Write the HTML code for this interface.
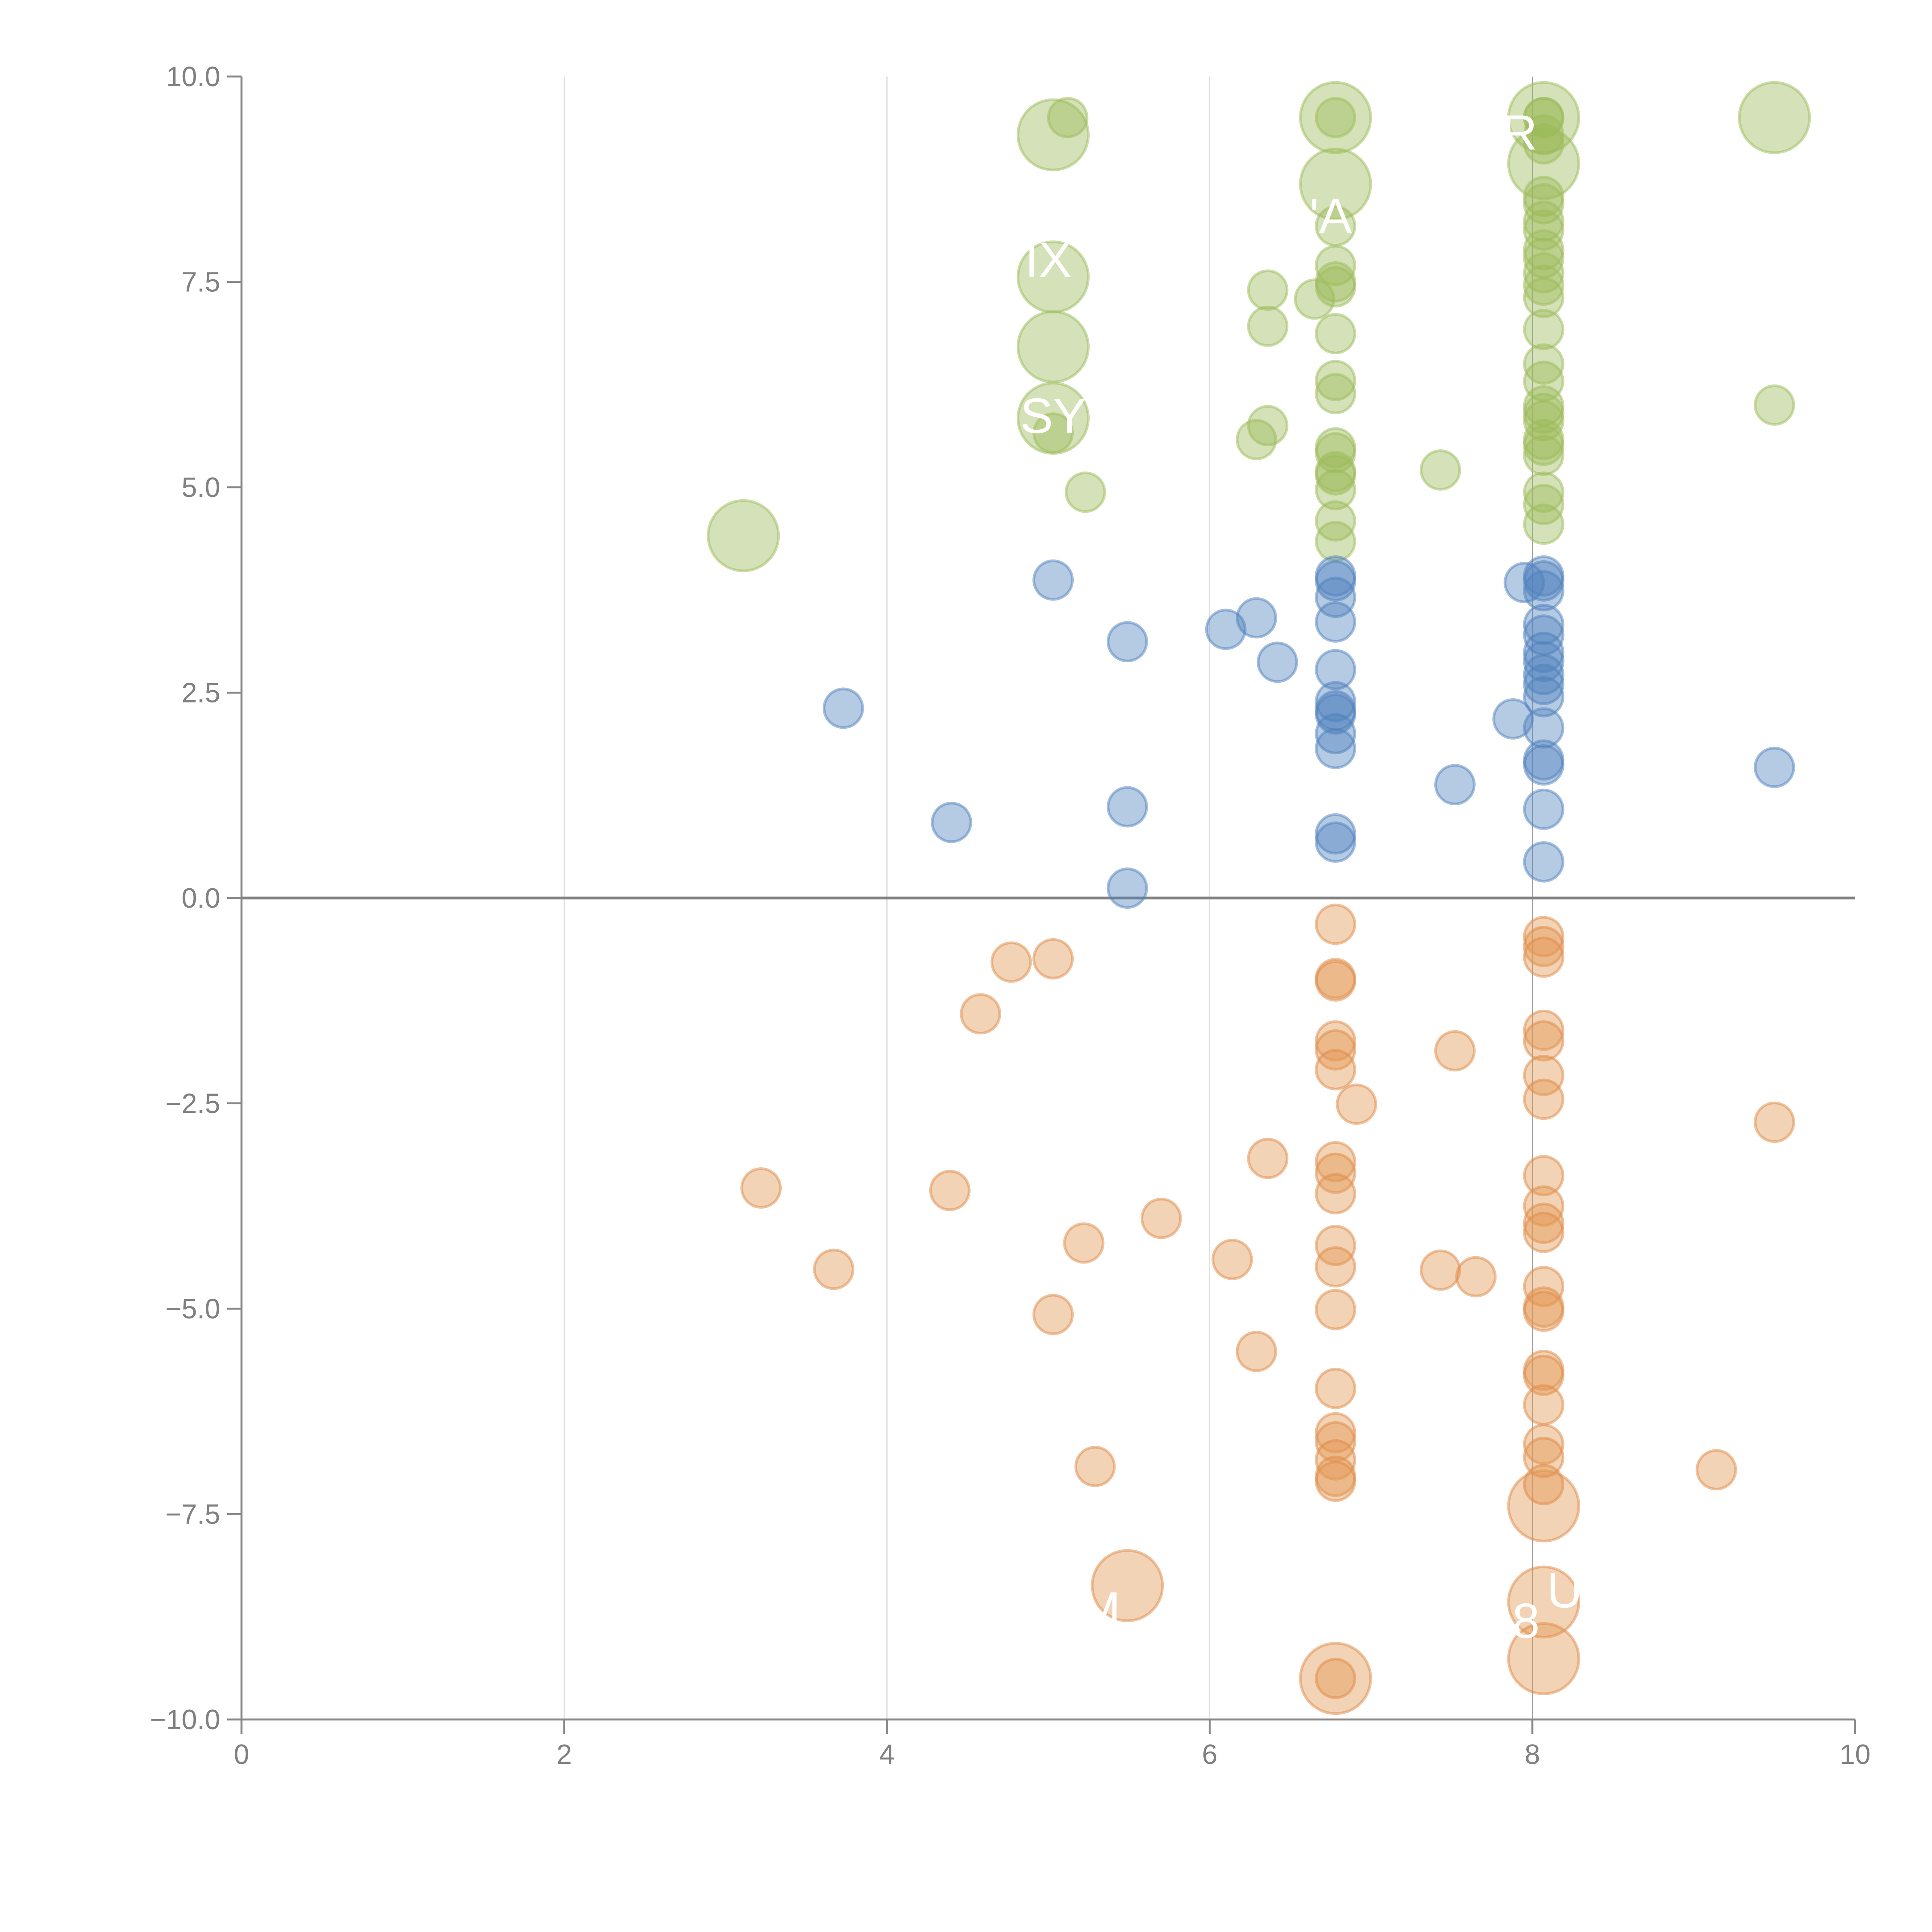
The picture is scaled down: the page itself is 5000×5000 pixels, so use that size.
<!DOCTYPE html>
<html><head><meta charset="utf-8"><style>html,body{margin:0;padding:0;background:#fff}svg{display:block}</style></head>
<body>
<svg id="chart" width="5000" height="5000" viewBox="0 0 5000 5000" xmlns="http://www.w3.org/2000/svg" font-family="Liberation Sans, sans-serif">
<g id="grid"></g>
<g id="axes"></g>
<g id="marks"></g>
<g id="labels"></g>
</svg>
<script>
const xTicks = [0, 2, 4, 6, 8, 10];
const yTicks = [-10, -7.5, -5, -2.5, 0, 2.5, 5, 7.5, 10];
const yTickLabels = ["\u221210.0", "\u22127.5", "\u22125.0", "\u22122.5", "0.0", "2.5", "5.0", "7.5", "10.0"];

const greenX = [5.12,6.78,8.07,6.36,6.36,6.65,6.78,6.78,6.78,6.78,6.78,6.78,6.78,6.78,6.78,6.78,6.78,6.78,6.78,6.78,6.36,6.29,5.23,5.03,7.43,9.5,
  8.07,8.07,8.07,8.07,8.07,8.07,8.07,8.07,8.07,8.07,8.07,8.07,8.07,8.07,8.07,8.07,8.07,8.07,8.07,8.07,8.07,8.07,8.07,8.07];
const greenY = [9.5,9.5,9.5,7.4,6.96,7.29,7.7,7.5,7.44,6.87,6.3,6.14,5.48,5.42,5.19,5.15,4.97,4.59,4.34,8.18,5.75,5.58,4.94,5.66,5.21,6.0,
  9.29,9.18,8.54,8.45,8.24,8.13,7.89,7.79,7.61,7.46,7.31,6.92,6.5,6.29,5.99,5.9,5.81,5.58,5.51,5.39,4.94,4.79,4.55,9.5];
const greenBigX = [5.03,5.03,5.03,5.03,3.11,6.78,6.78,8.07,8.07,9.5];
const greenBigY = [9.29,7.56,6.71,5.84,4.41,9.5,8.69,9.5,8.94,9.5];

const blueX = [3.73,4.40,5.03,5.49,5.49,5.49,6.10,6.29,6.42,7.52,7.88,7.95,9.5,
  6.78,6.78,6.78,6.78,6.78,6.78,6.78,6.78,6.78,6.78,6.78,6.78,
  8.07,8.07,8.07,8.07,8.07,8.07,8.07,8.07,8.07,8.07,8.07,8.07,8.07,8.07,8.07];
const blueY = [2.31,0.92,3.87,3.12,1.11,0.12,3.27,3.41,2.87,1.38,2.18,3.84,1.59,
  3.92,3.86,3.66,3.36,2.78,2.39,2.28,2.24,2.0,1.82,0.78,0.68,
  3.92,3.86,3.74,3.33,3.2,2.99,2.88,2.72,2.6,2.45,2.07,1.68,1.62,1.08,0.44];

const orangeX = [3.22,3.67,4.39,4.58,4.77,5.03,5.03,5.22,5.29,5.70,6.14,6.29,6.36,6.91,7.43,7.52,7.65,9.14,9.5,
  6.78,6.78,6.78,6.78,6.78,6.78,6.78,6.78,6.78,6.78,6.78,6.78,6.78,6.78,6.78,6.78,6.78,6.78,6.78,
  8.07,8.07,8.07,8.07,8.07,8.07,8.07,8.07,8.07,8.07,8.07,8.07,8.07,8.07,8.07,8.07,8.07,8.07,8.07,8.07];
const orangeY = [-3.53,-4.52,-3.56,-1.41,-0.78,-0.74,-5.07,-4.2,-6.92,-3.9,-4.4,-5.52,-3.17,-2.51,-4.53,-1.86,-4.61,-6.96,-2.73,
  -0.32,-0.98,-1.01,-1.74,-1.85,-2.09,-3.21,-3.35,-3.6,-4.23,-4.49,-5.01,-5.97,-6.51,-6.62,-6.84,-7.04,-7.1,-9.5,
  -0.47,-0.59,-0.72,-1.61,-1.74,-2.16,-2.45,-3.38,-3.75,-3.96,-4.07,-4.73,-4.98,-5.03,-5.75,-5.81,-6.17,-6.65,-6.81,-7.14];
const orangeBigX = [5.49,6.78,8.07,8.07,8.07];
const orangeBigY = [-8.37,-9.5,-7.4,-8.57,-9.26];

const labelText = ["IX","SY","'A","R","M","U","8"];
const labelX = [5.0,5.03,6.75,7.92,5.32,8.2,7.96];
const labelY = [7.75,5.85,8.28,9.3,-8.68,-8.45,-8.82];

const X0 = 625, X1 = 4801, Y0 = 4450, Y1 = 198;
const sx = v => X0 + (v - 0) / 10 * (X1 - X0);
const sy = v => Y0 - (v + 10) / 20 * (Y0 - Y1);
const NS = "http://www.w3.org/2000/svg";
function mk(tag, parent, attrs) {
  const e = document.createElementNS(NS, tag);
  for (const k in attrs) e.setAttribute(k, attrs[k]);
  parent.appendChild(e);
  return e;
}
const grid = document.getElementById('grid'), axes = document.getElementById('axes'),
  marks = document.getElementById('marks'), labels = document.getElementById('labels');

[2,4,6,8].forEach(v => {
  const l = mk('line', grid, {x1: sx(v), x2: sx(v), y1: Y1, y2: Y0, stroke: v === 8 ? '#999' : '#ddd', 'stroke-width': v === 8 ? 2 : 3});
  
  
});

let a = mk('line', axes, {x1: X0, x2: X0, y1: Y1, y2: Y0, stroke: '#888', 'stroke-width': 5});


a = mk('line', axes, {x1: X0, x2: X1, y1: Y0, y2: Y0, stroke: '#888', 'stroke-width': 5});


a = mk('line', axes, {x1: X0, x2: X1, y1: sy(0), y2: sy(0), stroke: '#808080', 'stroke-width': 7});



yTicks.forEach((v, i) => {
  const t = mk('line', axes, {x1: X0 - 37, x2: X0, y1: sy(v), y2: sy(v), stroke: '#888', 'stroke-width': 5});
  
  
  const tx = mk('text', axes, {x: X0 - 55, y: sy(v) + 25, 'text-anchor': 'end', 'font-size': 72, fill: '#808080'});
  tx.textContent = yTickLabels[i];
  
  
});
xTicks.forEach(v => {
  const t = mk('line', axes, {x1: sx(v), x2: sx(v), y1: Y0, y2: Y0 + 37, stroke: '#888', 'stroke-width': 5});
  
  
  const tx = mk('text', axes, {x: sx(v), y: Y0 + 115, 'text-anchor': 'middle', 'font-size': 72, fill: '#808080'});
  tx.textContent = String(v);
  
  
});

function drawSeries(xs, ys, r, fill, stroke, name) {
  xs.forEach((x, i) => {
    const c = mk('circle', marks, {cx: sx(x), cy: sy(ys[i]), r: r, fill: fill, 'fill-opacity': 0.42, stroke: stroke, 'stroke-opacity': 0.5, 'stroke-width': 7});
    
    
  });
}
drawSeries(greenBigX, greenBigY, 91, '#9bbb59', '#9bbb59', 'green-bubble-large');
drawSeries(orangeBigX, orangeBigY, 91, '#e39552', '#e08a45', 'orange-bubble-large');
drawSeries(greenX, greenY, 50, '#9bbb59', '#9bbb59', 'green-bubble');
drawSeries(blueX, blueY, 50, '#4f81bd', '#4f81bd', 'blue-bubble');
drawSeries(orangeX, orangeY, 50, '#e39552', '#e08a45', 'orange-bubble');

labelText.forEach((s, i) => {
  const t = mk('text', labels, {x: sx(labelX[i]), y: sy(labelY[i]) + 40, 'text-anchor': 'middle', 'font-size': 128, fill: '#fff'});
  t.textContent = s;
  
  
});
</script>
</body></html>
